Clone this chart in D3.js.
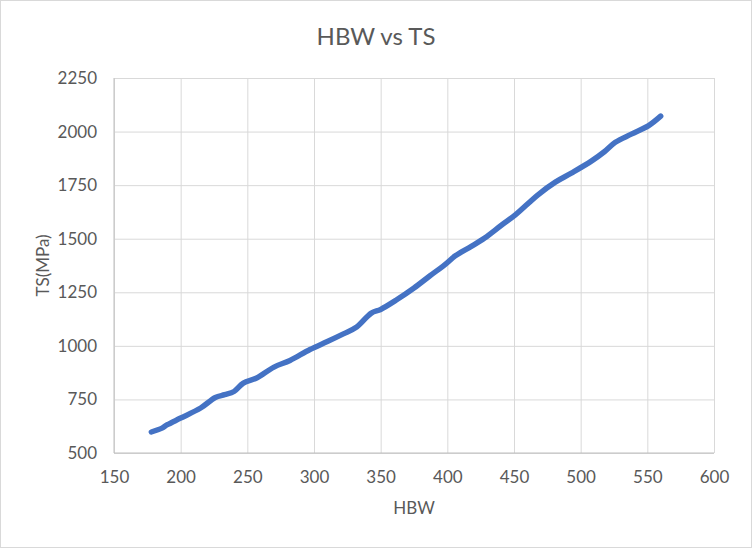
<!DOCTYPE html>
<html>
<head>
<meta charset="utf-8">
<script src="https://cdn.jsdelivr.net/npm/d3@7"></script>
<style>
  body { margin: 0; background: #fff; }
  text { font-family: Lato, "Noto Sans", sans-serif; fill: #595959; }
</style>
</head>
<body>
<svg id="chart" width="752" height="548"></svg>
<script>
// values
var hbw = [178, 186, 190, 200, 215, 226, 233, 240, 247, 257, 270, 282, 297, 310, 322, 332, 343, 350, 362, 375, 387, 398, 406, 418, 428, 441, 451, 468, 481, 493, 508, 518, 526, 538, 551, 560]
var ts = [598, 616, 632, 663, 710, 759, 772, 787, 826, 850, 901, 932, 983, 1020, 1056, 1088, 1153, 1170, 1215, 1270, 1327, 1378, 1420, 1464, 1503, 1565, 1611, 1705, 1764, 1806, 1862, 1907, 1950, 1988, 2028, 2072]
var xTicks = [150, 200, 250, 300, 350, 400, 450, 500, 550, 600]
var yTicks = [500, 750, 1000, 1250, 1500, 1750, 2000, 2250]

var width = 752, height = 548
var margin = {left: 114, right: 38, top: 78, bottom: 95}

var svg = d3.select("#chart")

svg.append("rect")
    .attr("x", 0.5).attr("y", 0.5)
    .attr("width", width - 1).attr("height", height - 1)
    .attr("fill", "#fff")
    .attr("stroke", "#d9d9d9")

var x = d3.scaleLinear()
    .domain([150, 600])
    .range([margin.left, width - margin.right])

var y = d3.scaleLinear()
    .domain([500, 2250])
    .range([height - margin.bottom, margin.top])

// gridlines
svg.append("g")
    .attr("transform", "translate(0," + (height - margin.bottom) + ")")
    .call(d3.axisBottom(x).tickValues(xTicks).tickSize(-(height - margin.top - margin.bottom)).tickFormat(""))
    .call(g => g.select(".domain").remove())
    .selectAll("line").attr("stroke", "#d9d9d9")

svg.append("g")
    .attr("transform", "translate(" + margin.left + ",0)")
    .call(d3.axisLeft(y).tickValues(yTicks).tickSize(-(width - margin.left - margin.right)).tickFormat(""))
    .call(g => g.select(".domain").remove())
    .selectAll("line").attr("stroke", "#d9d9d9")

// axis lines
svg.append("line")
    .attr("x1", margin.left).attr("x2", width - margin.right)
    .attr("y1", height - margin.bottom).attr("y2", height - margin.bottom)
    .attr("stroke", "#bfbfbf")
svg.append("line")
    .attr("x1", margin.left).attr("x2", margin.left)
    .attr("y1", margin.top).attr("y2", height - margin.bottom)
    .attr("stroke", "#bfbfbf")

// tick labels
var xAxis = svg.append("g")
    .attr("transform", "translate(0," + (height - margin.bottom) + ")")
    .call(d3.axisBottom(x).tickValues(xTicks).tickFormat(d3.format("d")).tickSize(0).tickPadding(18))
xAxis.select(".domain").remove()
xAxis.selectAll("text").style("font-size", "17px").style("font-family", "Lato, sans-serif").attr("fill", "#595959")

var yAxis = svg.append("g")
    .attr("transform", "translate(" + margin.left + ",0)")
    .call(d3.axisLeft(y).tickValues(yTicks).tickFormat(d3.format("d")).tickSize(0).tickPadding(17))
yAxis.select(".domain").remove()
yAxis.selectAll("text").style("font-size", "17px").style("font-family", "Lato, sans-serif").attr("fill", "#595959")

// series
var points = hbw.map((d, i) => [d, ts[i]])
var line = d3.line()
    .x(d => x(d[0]))
    .y(d => y(d[1]))
    .curve(d3.curveCatmullRom.alpha(0.5))

svg.append("path")
    .datum(points)
    .attr("d", line)
    .attr("fill", "none")
    .attr("stroke", "#4472c4")
    .attr("stroke-width", 5.5)
    .attr("stroke-linecap", "round")
    .attr("stroke-linejoin", "round")

// titles
svg.append("text")
    .attr("x", width / 2).attr("y", 45)
    .attr("text-anchor", "middle")
    .style("font-size", "24px")
    .text("HBW vs TS")

svg.append("text")
    .attr("x", (x.range()[0] + x.range()[1]) / 2).attr("y", 514)
    .attr("text-anchor", "middle")
    .style("font-size", "17px")
    .text("HBW")

svg.append("text")
    .attr("transform", "translate(49," + ((y.range()[0] + y.range()[1]) / 2) + ") rotate(-90)")
    .attr("text-anchor", "middle")
    .style("font-size", "17px")
    .text("TS(MPa)")
</script>
</body>
</html>
